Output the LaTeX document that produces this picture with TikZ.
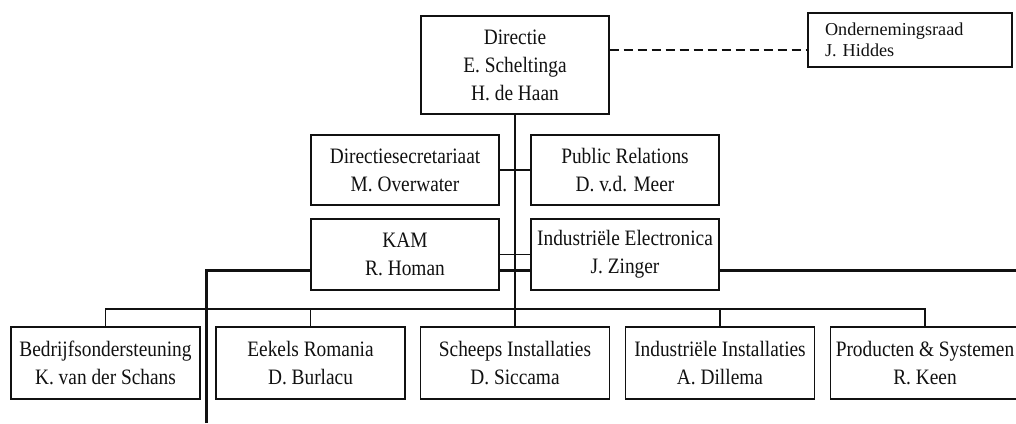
\documentclass[tikz,border=0pt]{standalone}
\usepackage{fontspec}
\setmainfont[FakeStretch=0.88]{Liberation Serif}
\newfontfamily\councilfont{Liberation Serif}
\usepackage{tikz}
\usetikzlibrary{positioning}
\definecolor{ink}{HTML}{111111}
\tikzset{
  unit/.style={draw=ink, line width=1.1pt, rectangle, align=center, inner sep=0pt,
    minimum width=188pt, minimum height=70pt, text=ink,
    font=\fontsize{22}{28}\selectfont},
  dept/.style={unit, minimum width=189pt, minimum height=72pt},
  council/.style={draw=ink, line width=1.1pt, rectangle, align=left, text=ink,
    text width=170pt, inner xsep=17pt, inner ysep=0pt, minimum height=54pt,
    font=\councilfont\fontsize{18.2}{21}\selectfont},
  lead/.style={draw=ink, line width=1.1pt},
  trunk/.style={draw=ink, line width=1.7pt},
  heavy/.style={draw=ink, line width=3pt},
  advice/.style={draw=ink, line width=1.2pt, dash pattern=on 9pt off 5pt},
}

\begin{document}
\begin{tikzpicture}[x=1pt,y=-1pt]
  \fill[white] (0,0) rectangle (1016,423);
  \useasboundingbox (0,0) rectangle (1016,423);
  \coordinate (link) at (0,50);
  \coordinate (bus) at (0,309);
  \coordinate (foot) at (206,423);
  \coordinate (edge) at (1016,270);

  % top
  \node[unit, minimum height=98pt] (dir) at (515,65) {Directie\\E. Scheltinga\\H. de Haan};
  \node[council] (raad) at (910,40) {Ondernemingsraad\\J. Hiddes};

  % staff
  \node[unit] (sec) at (405,170) {Directiesecretariaat\\M. Overwater};
  \node[unit] (pr) at (625,170) {Public Relations\\D. v.d. Meer};
  \node[unit, minimum height=71pt] (kam) at (405,254.5) {KAM\\R. Homan};
  \node[unit, minimum height=71pt] (ie) at (625,254.5) {Industriële Electronica\\J. Zinger};

  % line departments
  \node[dept] (bo) at (105.5,363) {Bedrijfsondersteuning\\K. van der Schans};
  \node[dept] (er) at (310.5,363) {Eekels Romania\\D. Burlacu};
  \node[dept] (si) at (515,363) {Scheeps Installaties\\D. Siccama};
  \node[dept] (ii) at (720,363) {Industriële Installaties\\A. Dillema};
  \node[dept] (ps) at (925,363) {Producten \& Systemen\\R. Keen};

  \draw[advice] (dir.east |- link) -- (raad.west |- link);
  \draw[trunk] (dir.south) -- (si.north);
  \draw[lead] (sec.east) -- (pr.west);
  \draw[lead] (kam.east) -- (ie.west);
  \draw[heavy] ([yshift=-15.5pt]kam.east) -- ([yshift=-15.5pt]ie.west);
  \draw[heavy] (foot) |- ([yshift=-15.5pt]kam.west);
  \draw[heavy] ([yshift=-15.5pt]ie.east) -- (edge);

  \draw[lead] (bo.north) -- (bo.north |- bus) -- (ps.north |- bus) -- (ps.north);
  \draw[lead] (er.north) -- (er.north |- bus);
  \draw[lead] (ii.north) -- (ii.north |- bus);
\end{tikzpicture}
\end{document}
